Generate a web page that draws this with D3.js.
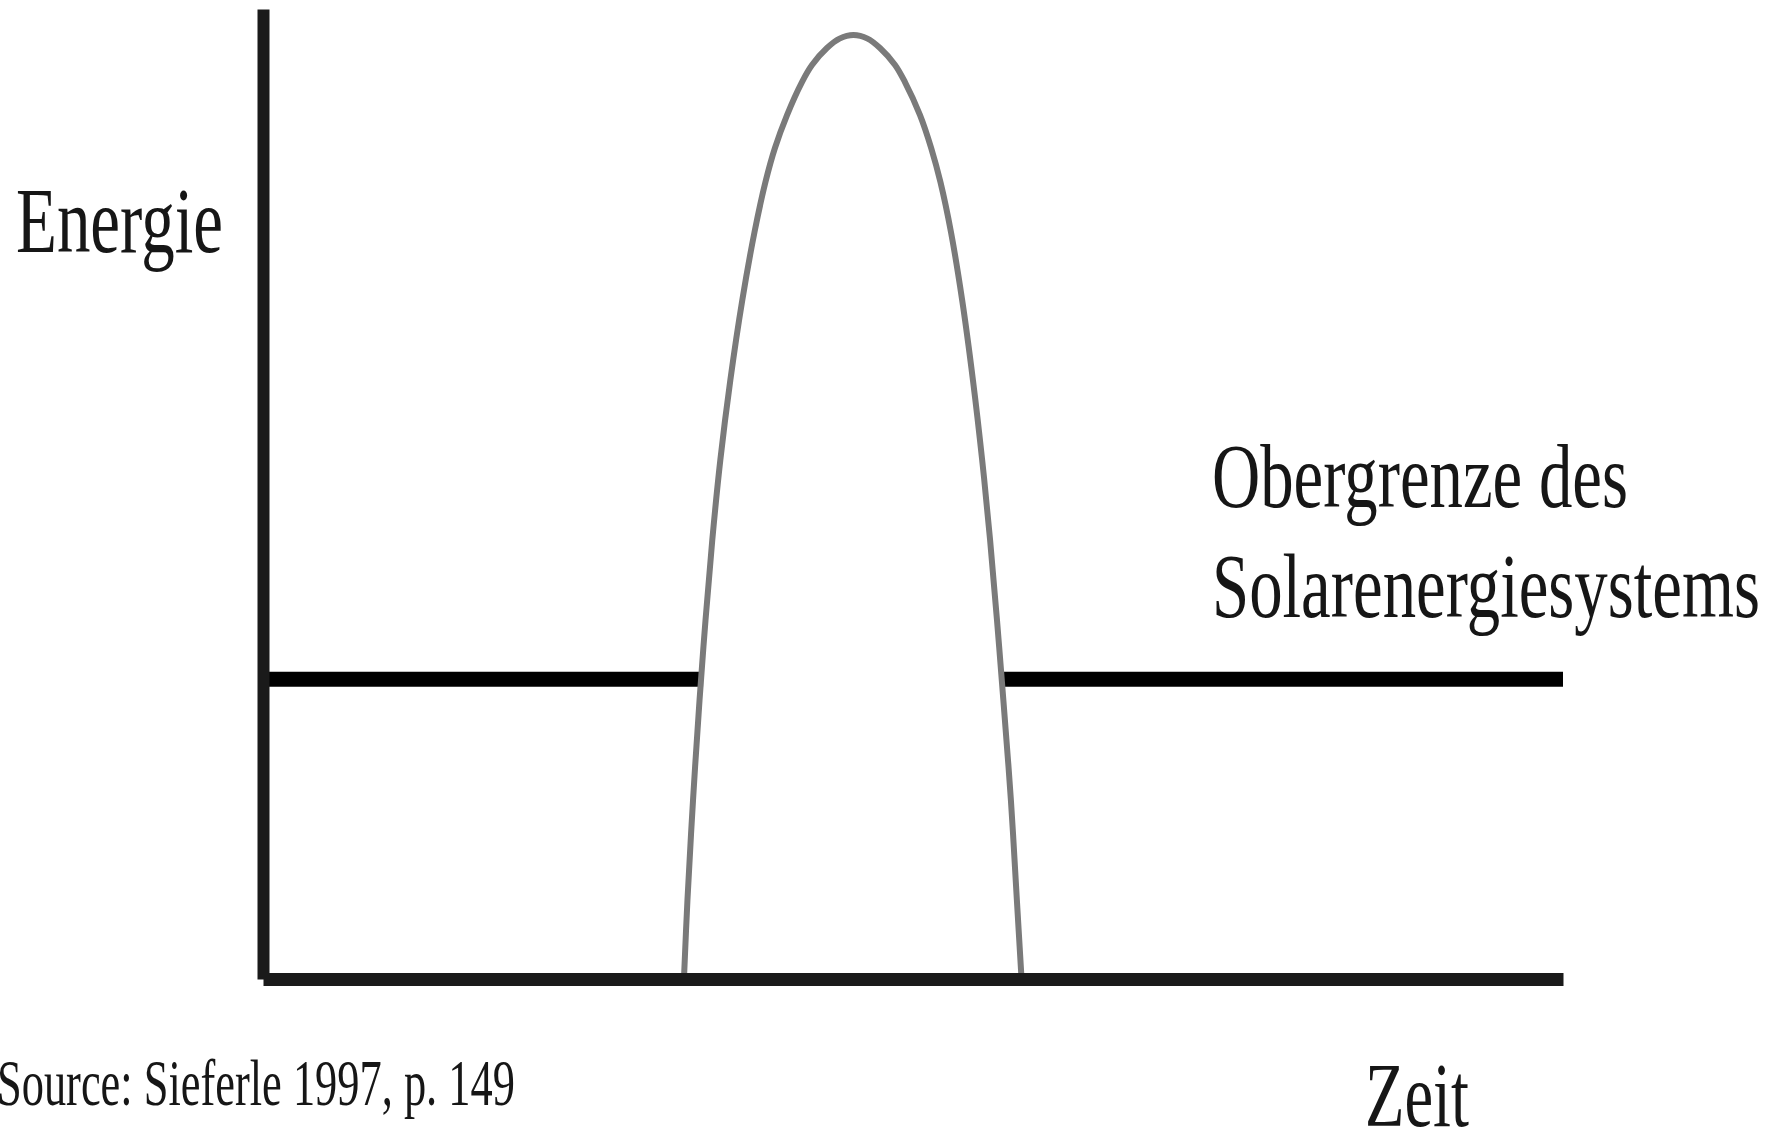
<!doctype html>
<meta charset='utf-8' />
<script src='https://cdn.jsdelivr.net/npm/d3@7'></script>
<style>
    body { margin: 0; background: #fff; }
    text { font-family: 'Liberation Serif', 'Times New Roman', serif; fill: #161616; }
</style>
<svg></svg>
<script>
    var width = 1781,
        height = 1133

    // Zeit / Energie, arbitrary units 0..100
    var peakTime = [32.38, 32.65, 33.08, 33.58, 34.04, 34.56, 35.18, 35.95, 36.87, 37.81, 38.65, 39.38, 40.31, 41.46, 42.23, 43.38, 44.35,
        45.42,
        46.5, 47.46, 48.62, 49.38, 50.54, 51.4, 52.11, 52.92, 53.78, 54.61, 55.32, 55.93, 56.46, 56.95, 57.53, 57.99, 58.35]
    var peakEnergy = [0, 8.14, 18.45, 28.76, 37.01, 45.26, 53.51, 61.75, 70.0, 77.01, 82.16, 85.67, 89.07, 92.47, 94.23, 95.98, 96.95,
        97.32,
        96.95, 95.98, 94.23, 92.47, 89.07, 85.67, 82.16, 77.01, 70.0, 61.75, 53.51, 45.26, 37.01, 28.76, 18.45, 8.14, 0]
    var solarLimit = 30.9
    var limitFrom = [0, 57.0]
    var limitTo = [33.85, 100]

    var yLabel = 'Energie',
        xLabel = 'Zeit',
        limitLabel = ['Obergrenze des', 'Solarenergiesystems'],
        sourceLabel = 'Source: Sieferle 1997, p. 149'

    var svg = d3.select('svg')
        .attr('width', width)
        .attr('height', height)

    var x = d3.scaleLinear().domain([0, 100]).range([263, 1563])
    var y = d3.scaleLinear().domain([0, 100]).range([979, 9])

    // upper limit of the solar energy system
    svg.selectAll('line.limit')
        .data(limitFrom.map((d, i) => ({ a: d, b: limitTo[i] })))
        .enter()
        .append('line')
        .attr('class', 'limit')
        .attr('x1', d => x(d.a))
        .attr('x2', d => x(d.b))
        .attr('y1', y(solarLimit))
        .attr('y2', y(solarLimit))
        .style('stroke', '#000')
        .style('stroke-width', 15)

    var line = d3.line()
        .x(d => x(d[0]))
        .y(d => y(d[1]))
        .curve(d3.curveCatmullRom.alpha(0.5))

    svg.append('path')
        .datum(peakTime.map((t, i) => [t, peakEnergy[i]]))
        .attr('d', line)
        .style('fill', 'none')
        .style('stroke', '#7a7a7a')
        .style('stroke-width', 6)

    // axes without ticks
    var gx = svg.append('g')
        .attr('transform', 'translate(0,' + y(0) + ')')
        .call(d3.axisBottom(x).tickValues([]).tickSizeOuter(0))
    var gy = svg.append('g')
        .attr('transform', 'translate(' + x(0) + ',0)')
        .call(d3.axisLeft(y).tickValues([]).tickSizeOuter(0))
    gx.select('.domain').style('stroke', '#1a1a1a').style('stroke-width', 13)
    gy.select('.domain').style('stroke', '#1a1a1a').style('stroke-width', 12)

    // the source picture is squeezed sideways, so squeeze each label to its width
    function label(txt, tx, ty, size, len) {
        var g = svg.append('g')
        var t = g.append('text')
            .attr('font-size', size)
            .text(txt)
        var k = len / t.node().getComputedTextLength()
        g.attr('transform', 'translate(' + tx + ',' + ty + ') scale(' + k + ',1)')
    }

    label(yLabel, 16, 252, 93, 207)
    label(limitLabel[0], 1212, 507, 91, 416)
    label(limitLabel[1], 1212, 617, 91, 548)
    label(xLabel, 1365, 1126, 92, 104)
    label(sourceLabel, -3, 1105, 65, 518)
</script>
